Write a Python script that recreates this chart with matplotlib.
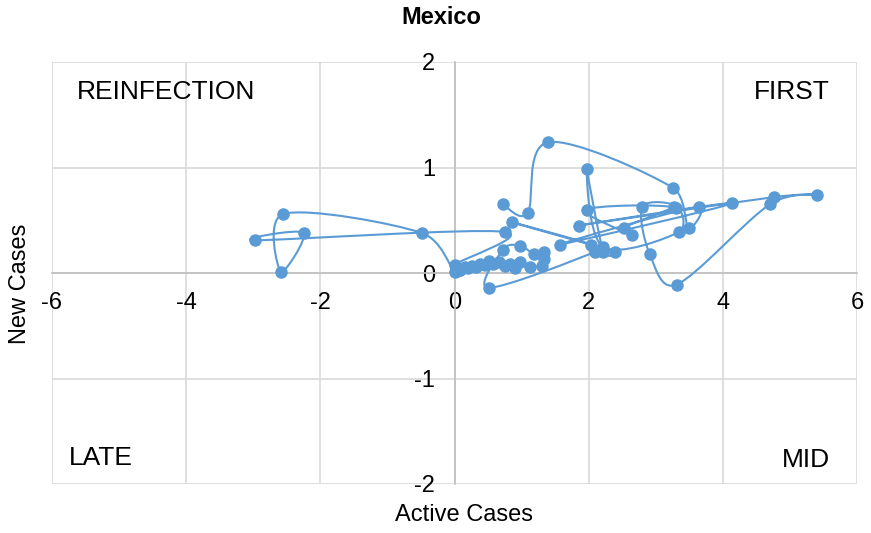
import matplotlib
matplotlib.use("Agg")
import matplotlib.pyplot as plt
import numpy as np
from matplotlib.path import Path
from matplotlib.patches import PathPatch

plt.rcParams['font.family'] = ['Liberation Sans', 'DejaVu Sans']

# active cases (x) and new cases (y), in plotting order
active = [0.72, 1.09, 1.40, 3.25, 3.49, 3.65, 1.57, 4.13, 1.85, 4.77,
          5.41, 4.70, 3.31, 2.91, 2.80, 3.27, 2.53, 2.64, 1.97, 3.30,
          3.35, 2.21, 1.97, 2.22, 2.39, 0.86, 2.04, 2.09, 0.51, 0.72,
          0.97, 1.19, 1.34, 1.34, 1.30, 1.12, 0.97, 0.90, 0.82, 0.75,
          0.66, 0.58, 0.52, 0.45, 0.38, 0.32, 0.26, 0.20, 0.15, 0.10,
          0.06, 0.02, 0.00, 0.75, -2.97, -2.25, -2.59, -2.55, -0.49, 0.00,
          0.03, 0.08]
new = [0.65, 0.57, 1.24, 0.81, 0.43, 0.63, 0.27, 0.66, 0.45, 0.72,
       0.74, 0.65, -0.11, 0.18, 0.63, 0.63, 0.43, 0.36, 0.60, 0.62,
       0.39, 0.25, 0.99, 0.20, 0.20, 0.48, 0.27, 0.20, -0.14, 0.22,
       0.26, 0.18, 0.20, 0.13, 0.07, 0.06, 0.10, 0.05, 0.09, 0.07,
       0.10, 0.09, 0.11, 0.08, 0.09, 0.06, 0.07, 0.05, 0.06, 0.04,
       0.03, 0.05, 0.08, 0.39, 0.31, 0.38, 0.01, 0.56, 0.38, 0.01,
       0.02, 0.03]

x_ticks = [-6, -4, -2, 0, 2, 4, 6]
y_ticks = [-2, -1, 0, 1, 2]
quadrants = ["REINFECTION", "FIRST", "LATE", "MID"]

blue = "#5B9BD5"


def smooth_path(xs, ys):
    # excel-like smoothed line: cubic bezier through every point,
    # control arms capped at half the segment so sharp turns don't overshoot
    p = np.column_stack([xs, ys])
    ext = np.vstack([p[0], p, p[-1]])
    verts = [p[0]]
    codes = [Path.MOVETO]
    for i in range(1, len(ext) - 2):
        p0, p1, p2, p3 = ext[i - 1], ext[i], ext[i + 1], ext[i + 2]
        seg = np.hypot(*(p2 - p1))
        a = (p2 - p0) / 6.0
        b = (p3 - p1) / 6.0
        la, lb = np.hypot(*a), np.hypot(*b)
        if la > seg / 2 and la > 0:
            a = a * (seg / 2) / la
        if lb > seg / 2 and lb > 0:
            b = b * (seg / 2) / lb
        verts += [p1 + a, p2 - b, p2]
        codes += [Path.CURVE4] * 3
    return Path(verts, codes)


fig = plt.figure(figsize=(8.71, 5.33), dpi=100)
ax = fig.add_axes([52 / 871, 1 - 484 / 533, (857 - 52) / 871, (484 - 62) / 533])

ax.set_xlim(-6, 6)
ax.set_ylim(-2, 2)
ax.set_xticks(x_ticks)
ax.set_yticks(y_ticks)
ax.set_xticklabels([str(v) for v in x_ticks])
ax.set_yticklabels([str(v) for v in y_ticks])
ax.grid(True, color="#D9D9D9", linewidth=1.2, zorder=0)
ax.set_axisbelow(True)

for s in ["top", "right"]:
    ax.spines[s].set_visible(False)
ax.spines["left"].set_position(("data", 0))
ax.spines["bottom"].set_position(("data", 0))
ax.spines["left"].set_color("#BFBFBF")
ax.spines["bottom"].set_color("#BFBFBF")
ax.spines["left"].set_linewidth(1.2)
ax.spines["bottom"].set_linewidth(1.2)
ax.tick_params(axis="both", length=0, labelsize=17, colors="black")
ax.tick_params(axis="x", pad=14)
ax.tick_params(axis="y", pad=14)

ax.add_patch(PathPatch(smooth_path(active, new), facecolor="none",
                       edgecolor=blue, linewidth=1.5, zorder=3))
ax.plot(active, new, linestyle="none", marker="o", markersize=8,
        color=blue, zorder=4)

fig.text(441 / 871, 1 - 17 / 533, "Mexico", fontsize=17, fontweight="bold",
         ha="center", va="center")
fig.text(464 / 871, 1 - 515 / 533, "Active Cases", fontsize=17,
         ha="center", va="center")
fig.text(20 / 871, 1 - 284 / 533, "New Cases", fontsize=17,
         ha="center", va="center", rotation=90)

ax.text(-5.63, 1.72, quadrants[0], fontsize=19, ha="left", va="center")
ax.text(5.6, 1.72, quadrants[1], fontsize=19, ha="right", va="center")
ax.text(-5.75, -1.75, quadrants[2], fontsize=19, ha="left", va="center")
ax.text(5.6, -1.77, quadrants[3], fontsize=19, ha="right", va="center")

fig.savefig("out.png", dpi=100)
